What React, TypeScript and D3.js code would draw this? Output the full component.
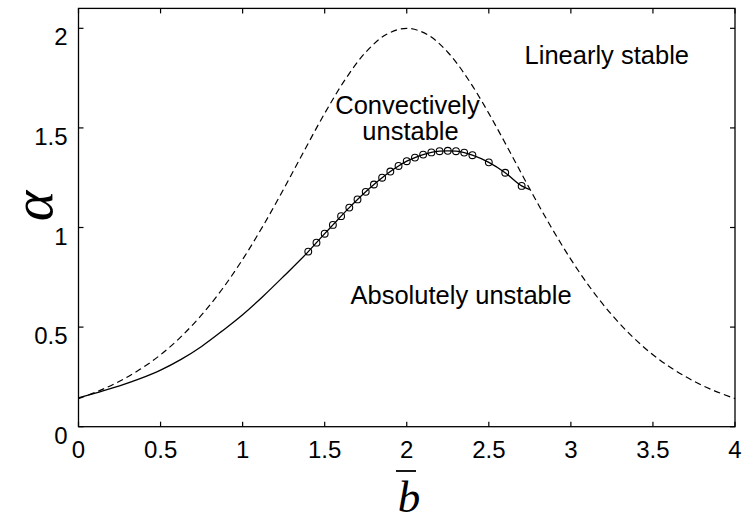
import React from "react";
import * as d3 from "d3";

// Neutral-stability (dashed) curve: linearly stable boundary
const dashedB = [0, 0.125, 0.25, 0.375, 0.5, 0.625, 0.75, 0.875, 1.0, 1.125, 1.25, 1.375, 1.5, 1.625, 1.75, 1.875, 2.0,
  2.125, 2.25, 2.375, 2.5, 2.625, 2.75, 2.875, 3.0, 3.125, 3.25, 3.375, 3.5, 3.625, 3.75, 3.875, 4.0];
const dashedA = [0.141, 0.18, 0.228, 0.288, 0.361, 0.452, 0.561, 0.69, 0.84, 1.009, 1.193, 1.385, 1.573, 1.743, 1.88, 1.969, 2.0,
  1.969, 1.88, 1.743, 1.573, 1.385, 1.193, 1.009, 0.84, 0.69, 0.561, 0.452, 0.361, 0.288, 0.228, 0.18, 0.141];

// Absolute/convective boundary (solid), lower branch without markers
const solidB = [0, 0.125, 0.25, 0.375, 0.5, 0.625, 0.75, 0.875, 1.0, 1.125, 1.25];
const solidA = [0.145, 0.174, 0.205, 0.241, 0.284, 0.338, 0.403, 0.48, 0.562, 0.655, 0.755];

// Marked points (circles) on the solid curve
const markB = [1.4, 1.45, 1.5, 1.55, 1.6, 1.65, 1.7, 1.75, 1.8, 1.85, 1.9, 1.95, 2.0, 2.05, 2.1, 2.15, 2.2, 2.25, 2.3, 2.35, 2.4, 2.5, 2.6, 2.7];
const markA = [0.879, 0.924, 0.969, 1.013, 1.057, 1.1, 1.141, 1.179, 1.216, 1.25, 1.281, 1.309, 1.333, 1.351, 1.366, 1.377, 1.383, 1.385, 1.383, 1.376, 1.363, 1.327, 1.275, 1.209];

// End of the solid curve where it meets the dashed one
const endB = [2.75];
const endA = [1.19];

const xTicks = [0, 0.5, 1, 1.5, 2, 2.5, 3, 3.5, 4];
const xTickLabels = ["0", "0.5", "1", "1.5", "2", "2.5", "3", "3.5", "4"];
const yTicks = [0, 0.5, 1, 1.5, 2];
const yTickLabels = ["0", "0.5", "1", "1.5", "2"];

const regionLabels = ["Linearly stable", "Convectively", "unstable", "Absolutely unstable"];

export default function App() {
  const W = 743, H = 522;
  const left = 78.5, right = 735, top = 8.4, bottom = 426.7;
  const x = d3.scaleLinear().domain([0, 4]).range([left, right]);
  const y = d3.scaleLinear().domain([0, 2.1]).range([bottom, top]);

  const dashedPts: [number, number][] = dashedB.map((b, i) => [b, dashedA[i]]);
  const solidPts: [number, number][] = [
    ...solidB.map((b, i) => [b, solidA[i]] as [number, number]),
    ...markB.map((b, i) => [b, markA[i]] as [number, number]),
    ...endB.map((b, i) => [b, endA[i]] as [number, number]),
  ];

  const dashLine = d3.line<[number, number]>()
    .x((d) => x(d[0]))
    .y((d) => y(d[1]))
    .curve(d3.curveCatmullRom.alpha(0.5));
  const solidLine = d3.line<[number, number]>()
    .x((d) => x(d[0]))
    .y((d) => y(d[1]))
    .curve(d3.curveMonotoneX);

  const font = "'Liberation Sans', Arial, Helvetica, sans-serif";
  const serif = "'Liberation Serif', 'Times New Roman', serif";
  const tl = 5;

  return (
    <svg width={W} height={H} style={{ position: "absolute", left: 0, top: 0, background: "#fff" }}>
      <rect x={0} y={0} width={W} height={H} fill="#fff" />
      {/* curves */}
      <path d={dashLine(dashedPts) || ""} fill="none" stroke="#000" strokeWidth={1.2} strokeDasharray="6.5,4" />
      <path d={solidLine(solidPts) || ""} fill="none" stroke="#000" strokeWidth={1.3} />
      {markB.map((b, i) => (
        <circle key={i} cx={x(b)} cy={y(markA[i])} r={3.4} fill="none" stroke="#000" strokeWidth={1.1} />
      ))}

      {/* box */}
      <rect x={left} y={top} width={right - left} height={bottom - top} fill="none" stroke="#000" strokeWidth={1.3} />
      {xTicks.map((t, i) => (
        <g key={"x" + i}>
          <line x1={x(t)} x2={x(t)} y1={bottom} y2={bottom - tl} stroke="#000" strokeWidth={1.2} />
          <line x1={x(t)} x2={x(t)} y1={top} y2={top + tl} stroke="#000" strokeWidth={1.2} />
          <text x={x(t)} y={bottom + 31} textAnchor="middle" fontFamily={font} fontSize={24} fill="#000">
            {xTickLabels[i]}
          </text>
        </g>
      ))}
      {yTicks.map((t, i) => (
        <g key={"y" + i}>
          <line x1={left} x2={left + tl} y1={y(t)} y2={y(t)} stroke="#000" strokeWidth={1.2} />
          <line x1={right} x2={right - tl} y1={y(t)} y2={y(t)} stroke="#000" strokeWidth={1.2} />
          <text x={67.5} y={y(t) + 17} textAnchor="end" fontFamily={font} fontSize={24} fill="#000">
            {yTickLabels[i]}
          </text>
        </g>
      ))}

      {/* region labels */}
      <text x={689} y={63.5} textAnchor="end" fontFamily={font} fontSize={25.5} fill="#000">{regionLabels[0]}</text>
      <text x={407.5} y={113.5} textAnchor="middle" fontFamily={font} fontSize={25.5} fill="#000">{regionLabels[1]}</text>
      <text x={410.5} y={140} textAnchor="middle" fontFamily={font} fontSize={25.5} fill="#000">{regionLabels[2]}</text>
      <text x={350.5} y={303.5} fontFamily={font} fontSize={25.5} fill="#000">{regionLabels[3]}</text>

      {/* axis labels */}
      <text transform="translate(52,206) rotate(-90)" textAnchor="middle" fontFamily={serif} fontStyle="italic" fontSize={58} fill="#000">α</text>
      <line x1={396} x2={416} y1={471} y2={471} stroke="#000" strokeWidth={1.8} />
      <text x={409} y={512} textAnchor="middle" fontFamily={serif} fontStyle="italic" fontSize={45} fill="#000">b</text>
    </svg>
  );
}
